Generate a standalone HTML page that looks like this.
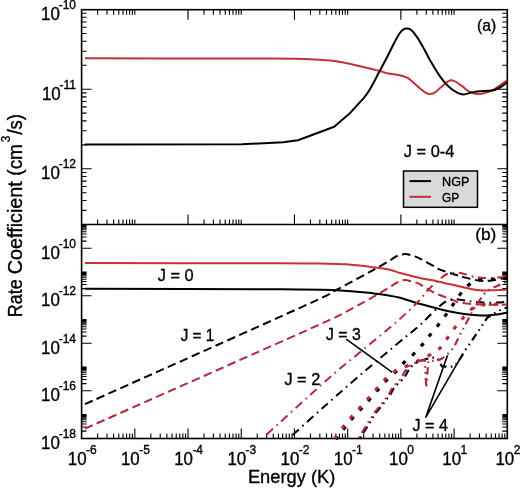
<!DOCTYPE html>
<html><head><meta charset="utf-8"><style>
html,body{margin:0;padding:0;background:#fff;}
body{width:520px;height:489px;overflow:hidden;}
svg{display:block;-webkit-font-smoothing:antialiased;}
text{-webkit-font-smoothing:antialiased;}
</style></head><body>
<svg width="520" height="489" viewBox="0 0 520 489" style="will-change:transform">
<rect width="520" height="489" fill="#fff"/>
<style>text{stroke:#000;stroke-width:0.35px;}</style>
<path d="M97.62 9.7v5 M97.62 224.5v-5 M106.99 9.7v5 M106.99 224.5v-5 M113.64 9.7v5 M113.64 224.5v-5 M118.79 9.7v5 M118.79 224.5v-5 M123.01 9.7v5 M123.01 224.5v-5 M126.57 9.7v5 M126.57 224.5v-5 M129.66 9.7v5 M129.66 224.5v-5 M132.38 9.7v5 M132.38 224.5v-5 M134.81 9.7v5 M134.81 224.5v-5 M188.03 9.7v10 M188.03 224.5v-10 M204.04 9.7v5 M204.04 224.5v-5 M213.41 9.7v5 M213.41 224.5v-5 M220.06 9.7v5 M220.06 224.5v-5 M225.22 9.7v5 M225.22 224.5v-5 M229.43 9.7v5 M229.43 224.5v-5 M232.99 9.7v5 M232.99 224.5v-5 M236.08 9.7v5 M236.08 224.5v-5 M238.8 9.7v5 M238.8 224.5v-5 M241.24 9.7v5 M241.24 224.5v-5 M294.45 9.7v10 M294.45 224.5v-10 M310.47 9.7v5 M310.47 224.5v-5 M319.84 9.7v5 M319.84 224.5v-5 M326.49 9.7v5 M326.49 224.5v-5 M331.64 9.7v5 M331.64 224.5v-5 M335.86 9.7v5 M335.86 224.5v-5 M339.42 9.7v5 M339.42 224.5v-5 M342.51 9.7v5 M342.51 224.5v-5 M345.23 9.7v5 M345.23 224.5v-5 M347.66 9.7v5 M347.66 224.5v-5 M400.88 9.7v10 M400.88 224.5v-10 M416.89 9.7v5 M416.89 224.5v-5 M426.26 9.7v5 M426.26 224.5v-5 M432.91 9.7v5 M432.91 224.5v-5 M438.07 9.7v5 M438.07 224.5v-5 M442.28 9.7v5 M442.28 224.5v-5 M445.84 9.7v5 M445.84 224.5v-5 M448.93 9.7v5 M448.93 224.5v-5 M451.65 9.7v5 M451.65 224.5v-5 M454.09 9.7v5 M454.09 224.5v-5 M81.6 89.2h10 M507.3 89.2h-10 M81.6 168.8h10 M507.3 168.8h-10 M81.6 65.24h5 M507.3 65.24h-5 M81.6 51.22h5 M507.3 51.22h-5 M81.6 41.28h5 M507.3 41.28h-5 M81.6 33.56h5 M507.3 33.56h-5 M81.6 27.26h5 M507.3 27.26h-5 M81.6 21.93h5 M507.3 21.93h-5 M81.6 17.31h5 M507.3 17.31h-5 M81.6 13.24h5 M507.3 13.24h-5 M81.6 144.84h5 M507.3 144.84h-5 M81.6 130.82h5 M507.3 130.82h-5 M81.6 120.88h5 M507.3 120.88h-5 M81.6 113.16h5 M507.3 113.16h-5 M81.6 106.86h5 M507.3 106.86h-5 M81.6 101.53h5 M507.3 101.53h-5 M81.6 96.91h5 M507.3 96.91h-5 M81.6 92.84h5 M507.3 92.84h-5 M81.6 210.42h5 M507.3 210.42h-5 M81.6 200.48h5 M507.3 200.48h-5 M81.6 192.76h5 M507.3 192.76h-5 M81.6 186.46h5 M507.3 186.46h-5 M81.6 181.13h5 M507.3 181.13h-5 M81.6 176.51h5 M507.3 176.51h-5 M81.6 172.44h5 M507.3 172.44h-5 M81.6 248.3h10 M507.3 248.3h-10 M81.6 241.15h5 M507.3 241.15h-5 M81.6 236.97h5 M507.3 236.97h-5 M81.6 234h5 M507.3 234h-5 M81.6 231.7h5 M507.3 231.7h-5 M81.6 229.82h5 M507.3 229.82h-5 M81.6 228.23h5 M507.3 228.23h-5 M81.6 226.85h5 M507.3 226.85h-5 M81.6 225.64h5 M507.3 225.64h-5 M81.6 224.55h5 M507.3 224.55h-5 M81.6 295.8h10 M507.3 295.8h-10 M81.6 288.65h5 M507.3 288.65h-5 M81.6 284.47h5 M507.3 284.47h-5 M81.6 281.5h5 M507.3 281.5h-5 M81.6 279.2h5 M507.3 279.2h-5 M81.6 277.32h5 M507.3 277.32h-5 M81.6 275.73h5 M507.3 275.73h-5 M81.6 274.35h5 M507.3 274.35h-5 M81.6 273.14h5 M507.3 273.14h-5 M81.6 272.05h5 M507.3 272.05h-5 M81.6 343.3h10 M507.3 343.3h-10 M81.6 336.15h5 M507.3 336.15h-5 M81.6 331.97h5 M507.3 331.97h-5 M81.6 329h5 M507.3 329h-5 M81.6 326.7h5 M507.3 326.7h-5 M81.6 324.82h5 M507.3 324.82h-5 M81.6 323.23h5 M507.3 323.23h-5 M81.6 321.85h5 M507.3 321.85h-5 M81.6 320.64h5 M507.3 320.64h-5 M81.6 319.55h5 M507.3 319.55h-5 M81.6 390.8h10 M507.3 390.8h-10 M81.6 383.65h5 M507.3 383.65h-5 M81.6 379.47h5 M507.3 379.47h-5 M81.6 376.5h5 M507.3 376.5h-5 M81.6 374.2h5 M507.3 374.2h-5 M81.6 372.32h5 M507.3 372.32h-5 M81.6 370.73h5 M507.3 370.73h-5 M81.6 369.35h5 M507.3 369.35h-5 M81.6 368.14h5 M507.3 368.14h-5 M81.6 367.05h5 M507.3 367.05h-5 M81.6 431.15h5 M507.3 431.15h-5 M81.6 426.97h5 M507.3 426.97h-5 M81.6 424h5 M507.3 424h-5 M81.6 421.7h5 M507.3 421.7h-5 M81.6 419.82h5 M507.3 419.82h-5 M81.6 418.23h5 M507.3 418.23h-5 M81.6 416.85h5 M507.3 416.85h-5 M81.6 415.64h5 M507.3 415.64h-5 M81.6 414.55h5 M507.3 414.55h-5 M97.62 438.5v-5 M106.99 438.5v-5 M113.64 438.5v-5 M118.79 438.5v-5 M123.01 438.5v-5 M126.57 438.5v-5 M129.66 438.5v-5 M132.38 438.5v-5 M134.81 438.5v-10 M150.83 438.5v-5 M160.2 438.5v-5 M166.85 438.5v-5 M172.01 438.5v-5 M176.22 438.5v-5 M179.78 438.5v-5 M182.87 438.5v-5 M185.59 438.5v-5 M188.03 438.5v-10 M204.04 438.5v-5 M213.41 438.5v-5 M220.06 438.5v-5 M225.22 438.5v-5 M229.43 438.5v-5 M232.99 438.5v-5 M236.08 438.5v-5 M238.8 438.5v-5 M241.24 438.5v-10 M257.26 438.5v-5 M266.63 438.5v-5 M273.27 438.5v-5 M278.43 438.5v-5 M282.64 438.5v-5 M286.21 438.5v-5 M289.29 438.5v-5 M292.02 438.5v-5 M294.45 438.5v-10 M310.47 438.5v-5 M319.84 438.5v-5 M326.49 438.5v-5 M331.64 438.5v-5 M335.86 438.5v-5 M339.42 438.5v-5 M342.51 438.5v-5 M345.23 438.5v-5 M347.66 438.5v-10 M363.68 438.5v-5 M373.05 438.5v-5 M379.7 438.5v-5 M384.86 438.5v-5 M389.07 438.5v-5 M392.63 438.5v-5 M395.72 438.5v-5 M398.44 438.5v-5 M400.88 438.5v-10 M416.89 438.5v-5 M426.26 438.5v-5 M432.91 438.5v-5 M438.07 438.5v-5 M442.28 438.5v-5 M445.84 438.5v-5 M448.93 438.5v-5 M451.65 438.5v-5 M454.09 438.5v-10 M470.11 438.5v-5 M479.48 438.5v-5 M486.12 438.5v-5 M491.28 438.5v-5 M495.49 438.5v-5 M499.06 438.5v-5 M502.14 438.5v-5 M504.87 438.5v-5" stroke="#000" stroke-width="1.1" fill="none"/>
<rect x="81.6" y="9.7" width="425.7" height="428.8" fill="none" stroke="#000" stroke-width="1.6"/>
<path d="M81.6 224.5H507.3" stroke="#000" stroke-width="1.6"/>
<text x="76" y="20" text-anchor="end" font-family="Liberation Sans, sans-serif" font-size="18"><tspan textLength="18.8" lengthAdjust="spacingAndGlyphs">10</tspan><tspan dy="-11" dx="-1.2" font-size="12">-10</tspan></text>
<text x="76" y="99.6" text-anchor="end" font-family="Liberation Sans, sans-serif" font-size="18"><tspan textLength="18.8" lengthAdjust="spacingAndGlyphs">10</tspan><tspan dy="-11" dx="-1.2" font-size="12">-11</tspan></text>
<text x="76" y="179.2" text-anchor="end" font-family="Liberation Sans, sans-serif" font-size="18"><tspan textLength="18.8" lengthAdjust="spacingAndGlyphs">10</tspan><tspan dy="-11" dx="-1.2" font-size="12">-12</tspan></text>
<text x="76" y="258.7" text-anchor="end" font-family="Liberation Sans, sans-serif" font-size="18"><tspan textLength="18.8" lengthAdjust="spacingAndGlyphs">10</tspan><tspan dy="-11" dx="-1.2" font-size="12">-10</tspan></text>
<text x="76" y="306.2" text-anchor="end" font-family="Liberation Sans, sans-serif" font-size="18"><tspan textLength="18.8" lengthAdjust="spacingAndGlyphs">10</tspan><tspan dy="-11" dx="-1.2" font-size="12">-12</tspan></text>
<text x="76" y="353.7" text-anchor="end" font-family="Liberation Sans, sans-serif" font-size="18"><tspan textLength="18.8" lengthAdjust="spacingAndGlyphs">10</tspan><tspan dy="-11" dx="-1.2" font-size="12">-14</tspan></text>
<text x="76" y="401.2" text-anchor="end" font-family="Liberation Sans, sans-serif" font-size="18"><tspan textLength="18.8" lengthAdjust="spacingAndGlyphs">10</tspan><tspan dy="-11" dx="-1.2" font-size="12">-16</tspan></text>
<text x="76" y="448.7" text-anchor="end" font-family="Liberation Sans, sans-serif" font-size="18"><tspan textLength="18.8" lengthAdjust="spacingAndGlyphs">10</tspan><tspan dy="-11" dx="-1.2" font-size="12">-18</tspan></text>
<text x="82.2" y="464.5" text-anchor="middle" font-family="Liberation Sans, sans-serif" font-size="18"><tspan textLength="18.8" lengthAdjust="spacingAndGlyphs">10</tspan><tspan dy="-11" dx="-0.6" font-size="12">-6</tspan></text>
<text x="135.41" y="464.5" text-anchor="middle" font-family="Liberation Sans, sans-serif" font-size="18"><tspan textLength="18.8" lengthAdjust="spacingAndGlyphs">10</tspan><tspan dy="-11" dx="-0.6" font-size="12">-5</tspan></text>
<text x="188.62" y="464.5" text-anchor="middle" font-family="Liberation Sans, sans-serif" font-size="18"><tspan textLength="18.8" lengthAdjust="spacingAndGlyphs">10</tspan><tspan dy="-11" dx="-0.6" font-size="12">-4</tspan></text>
<text x="241.84" y="464.5" text-anchor="middle" font-family="Liberation Sans, sans-serif" font-size="18"><tspan textLength="18.8" lengthAdjust="spacingAndGlyphs">10</tspan><tspan dy="-11" dx="-0.6" font-size="12">-3</tspan></text>
<text x="295.05" y="464.5" text-anchor="middle" font-family="Liberation Sans, sans-serif" font-size="18"><tspan textLength="18.8" lengthAdjust="spacingAndGlyphs">10</tspan><tspan dy="-11" dx="-0.6" font-size="12">-2</tspan></text>
<text x="348.26" y="464.5" text-anchor="middle" font-family="Liberation Sans, sans-serif" font-size="18"><tspan textLength="18.8" lengthAdjust="spacingAndGlyphs">10</tspan><tspan dy="-11" dx="-0.6" font-size="12">-1</tspan></text>
<text x="401.48" y="464.5" text-anchor="middle" font-family="Liberation Sans, sans-serif" font-size="18"><tspan textLength="18.8" lengthAdjust="spacingAndGlyphs">10</tspan><tspan dy="-11" dx="-0.6" font-size="12">0</tspan></text>
<text x="454.69" y="464.5" text-anchor="middle" font-family="Liberation Sans, sans-serif" font-size="18"><tspan textLength="18.8" lengthAdjust="spacingAndGlyphs">10</tspan><tspan dy="-11" dx="-0.6" font-size="12">1</tspan></text>
<text x="507.9" y="464.5" text-anchor="middle" font-family="Liberation Sans, sans-serif" font-size="18"><tspan textLength="18.8" lengthAdjust="spacingAndGlyphs">10</tspan><tspan dy="-11" dx="-0.6" font-size="12">2</tspan></text>
<g transform="translate(22.4,0) rotate(-90)" font-family="Liberation Sans, sans-serif"><text x="-317.16" y="0" font-size="19.5" textLength="37.91" lengthAdjust="spacingAndGlyphs">Rate</text><text x="-274.18" y="0" font-size="19.5" textLength="92.93" lengthAdjust="spacingAndGlyphs">Coefficient</text><text x="-175.66" y="0" font-size="19.5" textLength="31.54" lengthAdjust="spacingAndGlyphs">(cm</text><text x="-142.19" y="-12.9" font-size="13" textLength="6.52" lengthAdjust="spacingAndGlyphs">3</text><text x="-134.62" y="0" font-size="19.5" textLength="20.64" lengthAdjust="spacingAndGlyphs">/s)</text></g>
<rect x="403.5" y="171" width="74" height="36.3" fill="#d9d9d9" stroke="#000" stroke-width="1.5"/>
<path d="M409.5 181.1H431.1" stroke="#000" stroke-width="2"/>
<path d="M409.5 196.8H431.1" stroke="#c02c40" stroke-width="2"/>
<path d="M85 58.3 C110.83 58.35 205.17 58.52 240 58.6 C274.83 58.68 279 58.47 294 58.8 C309 59.13 319.92 59.58 330 60.6 C340.08 61.62 346.33 63.2 354.5 64.9 C362.67 66.6 373.53 69.4 379 70.8 C384.47 72.2 383.88 72.55 387.3 73.3 C390.72 74.05 396.23 74.58 399.5 75.3 C402.77 76.02 405.07 76.82 406.9 77.6 C408.73 78.38 408.32 78.18 410.5 80 C412.68 81.82 417.5 86.4 420 88.5 C422.5 90.6 423.77 91.67 425.5 92.6 C427.23 93.53 428.73 94.17 430.4 94.1 C432.07 94.03 433.78 93.3 435.5 92.2 C437.22 91.1 438.13 89.48 440.7 87.5 C443.27 85.52 447.5 80.65 450.9 80.3 C454.3 79.95 458.03 83.52 461.1 85.4 C464.17 87.28 466.4 90.17 469.3 91.6 C472.2 93.03 474.75 94.17 478.5 94 C482.25 93.83 488.22 92.03 491.8 90.6 C495.38 89.17 497.47 87.12 500 85.4 C502.53 83.68 505.83 81.15 507 80.3" stroke="#c43038" stroke-width="2" fill="none"/>
<path d="M85 144.4 L242 144.2 L283.1 142.3 L297.9 140.2 L334.2 126.7 L350.4 112.7 L363.9 97.9 C367.3 93.75 368.28 92.07 370.8 87.8 C373.32 83.53 376.25 77.47 379 72.3 C381.75 67.13 384.9 61.43 387.3 56.8 C389.7 52.17 391.37 48.38 393.4 44.5 C395.43 40.62 397.77 36.05 399.5 33.5 C401.23 30.95 402.53 30.03 403.8 29.2 C405.07 28.37 405.77 28.3 407.1 28.5 C408.43 28.7 410 28.75 411.8 30.4 C413.6 32.05 415.77 35.13 417.9 38.4 C420.03 41.67 422.52 46.25 424.6 50 C426.68 53.75 427.72 56.35 430.4 60.9 C433.08 65.45 437.28 72.7 440.7 77.3 C444.12 81.9 447.33 85.67 450.9 88.5 C454.47 91.33 458.7 93.62 462.1 94.3 C465.5 94.98 468.4 93.12 471.3 92.6 C474.2 92.08 476.08 91.53 479.5 91.2 C482.92 90.87 488.38 91.22 491.8 90.6 C495.22 89.98 497.47 88.87 500 87.5 C502.53 86.13 505.83 83.25 507 82.4" stroke="#000" stroke-width="2" fill="none" stroke-linejoin="round"/>
<path d="M85 263.1 C117.5 263.12 240.83 263.12 280 263.2 C319.17 263.28 309 263.42 320 263.6 C331 263.78 337.05 263.68 346 264.3 C354.95 264.92 366.37 266.38 373.7 267.3 C381.03 268.22 385.58 268.85 390 269.8 C394.42 270.75 395.2 271.63 400.2 273 C405.2 274.37 414.87 276.83 420 278 C425.13 279.17 426.97 279.18 431 280 C435.03 280.82 438.47 281.62 444.2 282.9 C449.93 284.18 459.43 286.47 465.4 287.7 C471.37 288.93 475.07 289.88 480 290.3 C484.93 290.72 490.5 290.32 495 290.2 C499.5 290.08 505 289.7 507 289.6" stroke="#cc3035" stroke-width="2" fill="none"/>
<path d="M85 288.8 C117.5 288.88 238.03 289.07 280 289.3 C321.97 289.53 321.18 289.52 336.8 290.2 C352.42 290.88 364.83 292.47 373.7 293.4 C382.57 294.33 385.62 295.07 390 295.8 C394.38 296.53 395.83 296.68 400 297.8 C404.17 298.92 408.67 300.7 415 302.5 C421.33 304.3 432.17 307.08 438 308.6 C443.83 310.12 445.62 310.72 450 311.6 C454.38 312.48 459.8 313.3 464.3 313.9 C468.8 314.5 473.22 314.93 477 315.2 C480.78 315.47 483.67 315.6 487 315.5 C490.33 315.4 493.67 315.08 497 314.6 C500.33 314.12 505.33 312.93 507 312.6" stroke="#000" stroke-width="2" fill="none"/>
<path d="M84.9 404.2 C120.75 388.13 258.02 326.88 300 307.8 C341.98 288.72 323.6 296.55 336.8 289.7 C350 282.85 370.33 271.6 379.2 266.7 C388.07 261.8 387.03 262.08 390 260.3 C392.97 258.52 394.52 257.03 397 256 C399.48 254.97 402.4 254.18 404.9 254.1 C407.4 254.02 409.42 254.72 412 255.5 C414.58 256.28 416.77 257.02 420.4 258.8 C424.03 260.58 430.63 264.43 433.8 266.2 C436.97 267.97 436.07 268.07 439.4 269.4 C442.73 270.73 449.47 272.83 453.8 274.2 C458.13 275.57 461.12 276.53 465.4 277.6 C469.68 278.67 475.1 280.13 479.5 280.6 C483.9 281.07 487.22 280.97 491.8 280.4 C496.38 279.83 504.47 277.73 507 277.2" stroke="#000" stroke-width="2" fill="none" stroke-dasharray="8.5 4.5"/>
<path d="M84.9 428.7 C121.98 412.25 263.88 349.48 307.4 330 C350.92 310.52 334.03 317.9 346 311.8 C357.97 305.7 371.87 297.53 379.2 293.4 C386.53 289.27 387.03 288.82 390 287 C392.97 285.18 394.63 283.65 397 282.5 C399.37 281.35 401.58 280.23 404.2 280.1 C406.82 279.97 410.23 281.1 412.7 281.7 C415.17 282.3 416.5 282.45 419 283.7 C421.5 284.95 424.53 287.42 427.7 289.2 C430.87 290.98 433.97 292.67 438 294.4 C442.03 296.13 448.23 298.25 451.9 299.6 C455.57 300.95 455.32 301.67 460 302.5 C464.68 303.33 472.17 304.25 480 304.6 C487.83 304.95 502.5 304.6 507 304.6" stroke="#b42a38" stroke-width="2" fill="none" stroke-dasharray="8.5 4.5"/>
<path d="M266.1 435.1 C276.37 425.78 312.05 393 327.7 379.2 C343.35 365.4 348.47 361.92 360 352.3 C371.53 342.68 387.35 329.8 396.9 321.5 C406.45 313.2 411.98 307.88 417.3 302.5 C422.62 297.12 425.12 293.03 428.8 289.2 C432.48 285.37 436.37 282.03 439.4 279.5 C442.43 276.97 444.27 275.15 447 274 C449.73 272.85 453.05 272.63 455.8 272.6 C458.55 272.57 459.97 272.98 463.5 273.8 C467.03 274.62 472.58 276.8 477 277.5 C481.42 278.2 485 278.12 490 278 C495 277.88 504.17 277 507 276.8" stroke="#b42a38" stroke-width="2" fill="none" stroke-dasharray="8.5 4.8 1.6 4.6" stroke-dashoffset="-1"/>
<path d="M292.6 435 C297.5 430.58 311.07 418.2 322 408.5 C332.93 398.8 345.2 387.97 358.2 376.8 C371.2 365.63 390.37 349.53 400 341.5 C409.63 333.47 411.38 332.6 416 328.6 C420.62 324.6 423.93 321.08 427.7 317.5 C431.47 313.92 435.55 309.77 438.6 307.1 C441.65 304.43 443.27 302.8 446 301.5 C448.73 300.2 451.83 299.47 455 299.3 C458.17 299.13 460.83 300 465 300.5 C469.17 301 474.67 301.95 480 302.3 C485.33 302.65 492.5 302.73 497 302.6 C501.5 302.47 505.33 301.68 507 301.5" stroke="#000" stroke-width="2" fill="none" stroke-dasharray="8.5 4.8 1.6 4.6"/>
<path d="M336 439.3 C337.4 437.43 341.67 431.6 344.4 428.1 C347.13 424.6 349.63 421.5 352.4 418.3 C355.17 415.1 358.1 412.1 361 408.9 C363.9 405.7 366.88 402.4 369.8 399.1 C372.72 395.8 375.58 392.4 378.5 389.1 C381.42 385.8 384.35 382.27 387.3 379.3 C390.25 376.33 393.35 374.17 396.2 371.3 C399.05 368.43 401.5 364.97 404.4 362.1 C407.3 359.23 410.63 356.97 413.6 354.1 C416.57 351.23 419.7 347.8 422.2 344.9 C424.7 342 426.15 339.73 428.6 336.7 C431.05 333.67 434.27 330 436.9 326.7 C439.53 323.4 441.9 320.3 444.4 316.9 C446.9 313.5 449.42 309.87 451.9 306.3 C454.38 302.73 456.65 298.92 459.3 295.5 C461.95 292.08 465.02 288.3 467.8 285.8 C470.58 283.3 472.3 281.55 476 280.5 C479.7 279.45 484.83 279.83 490 279.5 C495.17 279.17 504.17 278.67 507 278.5" stroke="#000" stroke-width="3.2" fill="none" stroke-dasharray="4 8.7" stroke-dashoffset="0.9"/>
<path d="M335 438 C336.4 436.13 340.67 430.3 343.4 426.8 C346.13 423.3 348.63 420.2 351.4 417 C354.17 413.8 357.1 410.8 360 407.6 C362.9 404.4 365.88 401.1 368.8 397.8 C371.72 394.5 374.58 391.07 377.5 387.8 C380.42 384.53 383.33 381.03 386.3 378.2 C389.27 375.37 392.43 372.63 395.3 370.8 C398.17 368.97 400.65 368.35 403.5 367.2 C406.35 366.05 409.9 364.97 412.4 363.9 C414.9 362.83 415.9 362.12 418.5 360.8 C421.1 359.48 424.78 357.75 428 356 C431.22 354.25 434.83 352.9 437.8 350.3 C440.77 347.7 443.25 343.78 445.8 340.4 C448.35 337.02 450.48 333.45 453.1 330 C455.72 326.55 458.67 322.97 461.5 319.7 C464.33 316.43 467.35 312.77 470.1 310.4 C472.85 308.03 474.68 306.48 478 305.5 C481.32 304.52 485.17 304.75 490 304.5 C494.83 304.25 504.17 304.08 507 304" stroke="#b42a38" stroke-width="3.2" fill="none" stroke-dasharray="4 8.7" stroke-dashoffset="0.9"/>
<path d="M360.1 438 L363.7 432.2 L376.1 412.5 L381.7 405.8 L390.7 394 L394.1 387.2 L403 379.2 L406.3 374.3 L410 367.5 L418 361.5 L431.5 357.5 L437.3 358 L442 366.5 L449.3 366.8 L454.5 366.4 L459.3 360.1 L464.7 351 L472.1 340.4 L487.2 317.9 L497.1 311.6 L503.2 308.7 L507 307.6" stroke="#000" stroke-width="2.2" fill="none" stroke-dasharray="7.5 4.3 1.6 4.3 1.6 4.2" stroke-dashoffset="17.5"/>
<path d="M358.6 438 L362.2 432.2 L374.6 412.5 L380.2 405.8 L389.2 394 L392.6 387.2 L400.7 379.2 L403.8 373.1 L408.7 366.3 L418.5 361 L424.8 359.8 L425.6 375 L426.3 388 L427.2 375 L428.5 360.6 L436.8 360.9 L442 358.5 L449.8 352.2 L454.1 346.9 L459.3 336.1 L466 323.4 L476 305 L485.8 291.9 L491.4 288.5 L497.6 285.7 L507 282" stroke="#b42a38" stroke-width="2.2" fill="none" stroke-dasharray="7.5 4.3 1.6 4.3 1.6 4.2" stroke-dashoffset="17.5"/>
<text x="477.03" y="31.18" font-family="Liberation Sans, sans-serif" font-size="16.6" textLength="19.17" lengthAdjust="spacingAndGlyphs">(a)</text>
<text x="475.24" y="240.35" font-family="Liberation Sans, sans-serif" font-size="16.6" textLength="21.05" lengthAdjust="spacingAndGlyphs">(b)</text>
<text x="403.85" y="157.41" font-family="Liberation Sans, sans-serif" font-size="17.2" textLength="50.5" lengthAdjust="spacingAndGlyphs">J = 0-4</text>
<text x="442.07" y="185.94" font-family="Liberation Sans, sans-serif" font-size="13.23" textLength="27.34" lengthAdjust="spacingAndGlyphs">NGP</text>
<text x="442.04" y="201.64" font-family="Liberation Sans, sans-serif" font-size="13.23" textLength="17.2" lengthAdjust="spacingAndGlyphs">GP</text>
<text x="157.65" y="281.41" font-family="Liberation Sans, sans-serif" font-size="17.4" textLength="35.96" lengthAdjust="spacingAndGlyphs">J = 0</text>
<text x="180.67" y="341.41" font-family="Liberation Sans, sans-serif" font-size="17.4" textLength="33.51" lengthAdjust="spacingAndGlyphs">J = 1</text>
<text x="284.45" y="384.71" font-family="Liberation Sans, sans-serif" font-size="17.4" textLength="35.78" lengthAdjust="spacingAndGlyphs">J = 2</text>
<text x="326.06" y="339.61" font-family="Liberation Sans, sans-serif" font-size="17.4" textLength="34.74" lengthAdjust="spacingAndGlyphs">J = 3</text>
<text x="412.45" y="431.01" font-family="Liberation Sans, sans-serif" font-size="17.4" textLength="35.44" lengthAdjust="spacingAndGlyphs">J = 4</text>
<text x="247.91" y="483.42" font-family="Liberation Sans, sans-serif" font-size="18.6" textLength="87.4" lengthAdjust="spacingAndGlyphs">Energy (K)</text>
<path d="M346.2 339.2L392.3 372.3M447.5 355.2L425.6 417.7L459.8 359.2" stroke="#000" stroke-width="1.6" fill="none"/>
</svg>
</body></html>
